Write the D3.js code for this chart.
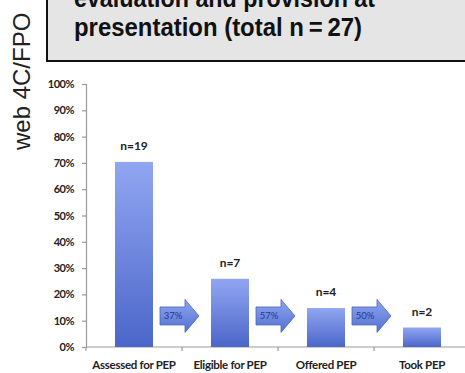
<!DOCTYPE html>
<html>
<head>
<meta charset="utf-8">
<script src="https://cdn.jsdelivr.net/npm/d3@7"></script>
<style>
  html, body { margin: 0; padding: 0; background: #fff; }
  svg { display: block; }
</style>
</head>
<body>
<svg id="chart" width="465" height="373"></svg>
<script>
// PEP cascade: patients at each step (total n = 27)
const categories = ["Assessed for PEP", "Eligible for PEP", "Offered PEP", "Took PEP"];
const counts = [19, 7, 4, 2];
const total = 27;
const percentValues = counts.map(c => c / total * 100);
const stepLabels = ["37%", "57%", "50%"];
const yTickValues = [0, 10, 20, 30, 40, 50, 60, 70, 80, 90, 100];
const titleLines = ["evaluation and provision at", "presentation (total n\u2009=\u200927)"];
const arrowLevel = 11.8; // vertical placement of step arrows, in % units

const svg = d3.select("#chart");
const chartFont = "Lato, 'Open Sans', sans-serif";

// gradients
const defs = svg.append("defs");
const barGrad = defs.append("linearGradient")
  .attr("id", "barGrad").attr("x1", 0).attr("y1", 0).attr("x2", 0).attr("y2", 1);
barGrad.append("stop").attr("offset", "0%").attr("stop-color", "#91a6f1");
barGrad.append("stop").attr("offset", "100%").attr("stop-color", "#4b66c9");
const arrowGrad = defs.append("linearGradient")
  .attr("id", "arrowGrad").attr("x1", 0).attr("y1", 0).attr("x2", 0).attr("y2", 1);
arrowGrad.append("stop").attr("offset", "0%").attr("stop-color", "#8fa4ef");
arrowGrad.append("stop").attr("offset", "100%").attr("stop-color", "#5571d0");

// header panel
svg.append("rect")
  .attr("x", 47).attr("y", -10).attr("width", 440).attr("height", 71)
  .attr("fill", "#e5e5e5").attr("stroke", "#111").attr("stroke-width", 2);
const titleText = svg.append("g")
  .attr("font-family", "'Liberation Sans Narrow', 'Arial Narrow', 'Liberation Sans', Arial, sans-serif")
  .attr("font-weight", "bold").attr("font-size", 26).attr("fill", "#111");
titleText.append("text").attr("x", 74).attr("y", 7)
  .attr("textLength", 301).attr("lengthAdjust", "spacingAndGlyphs").text(titleLines[0]);
titleText.append("text").attr("x", 74).attr("y", 36)
  .attr("textLength", 288).attr("lengthAdjust", "spacingAndGlyphs").text(titleLines[1]);

// side slug
svg.append("text")
  .attr("transform", "translate(30,150) rotate(-90)")
  .attr("font-family", "'Liberation Sans', Arial, sans-serif")
  .attr("font-size", 24).attr("fill", "#222")
  .text("web 4C/FPO");

// scales
const x = d3.scaleBand().domain(categories).range([86, 470]).paddingInner(0).paddingOuter(0);
const y = d3.scaleLinear().domain([0, 100]).range([347, 84]);
const barW = 38;

// y axis
const yAxis = svg.append("g")
  .attr("transform", "translate(86,0)")
  .call(d3.axisLeft(y).tickValues(yTickValues).tickSize(4).tickPadding(8)
    .tickFormat(d => d + "%"));
yAxis.select(".domain").attr("stroke", "#9a9a9a").attr("stroke-width", 1.2);
yAxis.selectAll(".tick line").attr("stroke", "#9a9a9a").attr("stroke-width", 1.2);
yAxis.selectAll(".tick text")
  .attr("font-family", chartFont).attr("font-weight", "bold")
  .attr("font-size", 11).attr("fill", "#222").attr("letter-spacing", -0.5);

// x axis baseline with ticks at category boundaries
const xAxis = svg.append("g");
xAxis.append("line")
  .attr("x1", x.range()[0]).attr("x2", x.range()[1])
  .attr("y1", y(0)).attr("y2", y(0))
  .attr("stroke", "#9a9a9a").attr("stroke-width", 1.2);
xAxis.selectAll("line.bound")
  .data(categories)
  .join("line").attr("class", "bound")
  .attr("x1", d => x(d)).attr("x2", d => x(d))
  .attr("y1", y(0)).attr("y2", y(0) + 4)
  .attr("stroke", "#9a9a9a").attr("stroke-width", 1.2);
xAxis.selectAll("text")
  .data(categories)
  .join("text")
  .attr("x", d => x(d) + x.bandwidth() / 2)
  .attr("y", y(0) + 22)
  .attr("text-anchor", "middle")
  .attr("font-family", chartFont).attr("font-weight", "bold")
  .attr("font-size", 11.5).attr("fill", "#222").attr("letter-spacing", -0.3)
  .text(d => d);

// bars
svg.append("g").selectAll("rect")
  .data(percentValues)
  .join("rect")
  .attr("x", (d, i) => x(categories[i]) + x.bandwidth() / 2 - barW / 2)
  .attr("y", d => y(d))
  .attr("width", barW)
  .attr("height", d => y(0) - y(d))
  .attr("fill", "url(#barGrad)");

// count labels
svg.append("g").selectAll("text")
  .data(percentValues)
  .join("text")
  .attr("x", (d, i) => x(categories[i]) + x.bandwidth() / 2)
  .attr("y", d => y(d) - 12)
  .attr("text-anchor", "middle")
  .attr("font-family", chartFont).attr("font-weight", "bold")
  .attr("font-size", 12).attr("fill", "#222")
  .text((d, i) => "n=" + counts[i]);

// step arrows between bars
const arrowG = svg.append("g");
stepLabels.forEach((lab, i) => {
  const bx = x(categories[i + 1]);
  const cy = y(arrowLevel);
  const x0 = bx - 22, xh = bx + 3, x1 = bx + 17;
  const pts = [
    [x0, cy - 9], [xh, cy - 9], [xh, cy - 16.5], [x1, cy],
    [xh, cy + 16.5], [xh, cy + 9], [x0, cy + 9]
  ];
  arrowG.append("path")
    .attr("d", d3.line()(pts) + "Z")
    .attr("fill", "url(#arrowGrad)")
    .attr("stroke", "#4d66bd").attr("stroke-width", 0.8);
  arrowG.append("text")
    .attr("x", x0 + 13).attr("y", cy + 3.5)
    .attr("text-anchor", "middle")
    .attr("font-family", chartFont)
    .attr("font-size", 9.5).attr("fill", "#233a8a")
    .text(lab);
});
</script>
</body>
</html>
